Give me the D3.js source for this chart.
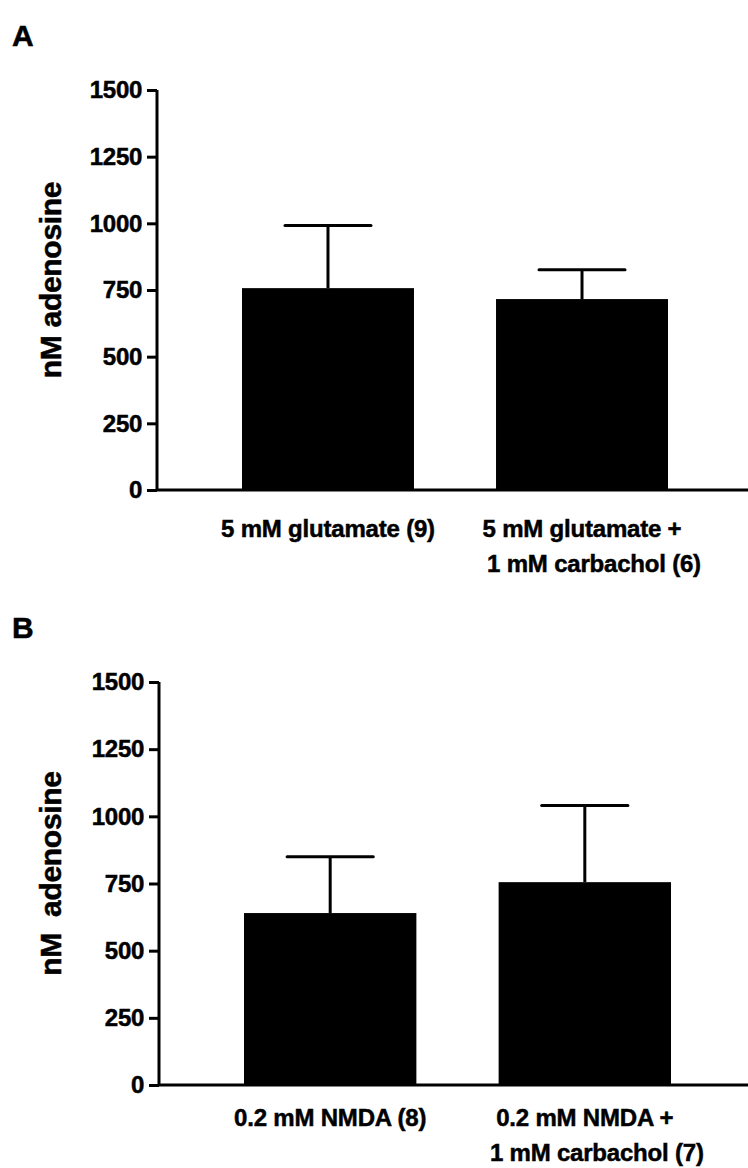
<!DOCTYPE html>
<html>
<head>
<meta charset="utf-8">
<script src="https://cdn.jsdelivr.net/npm/d3@7"></script>
<style>
  body { margin: 0; background: #fff; }
  svg { display: block; }
  text { font-family: "Liberation Sans", Arial, Helvetica, sans-serif; font-weight: bold; fill: #000; stroke: #000; stroke-width: 0.5px; }
</style>
</head>
<body>
<svg id="chart" width="748" height="1168"></svg>
<script>
// data (means and SEM, nM adenosine)
var panelLetters = ["A", "B"];
var categoriesA = [["5 mM glutamate (9)"], ["5 mM glutamate +", "1 mM carbachol (6)"]];
var meansA = [757, 716];
var semA = [235, 110];
var categoriesB = [["0.2 mM NMDA (8)"], ["0.2 mM NMDA +", "1 mM carbachol (7)"]];
var meansB = [640, 755];
var semB = [210, 285];
var yTicks = [0, 250, 500, 750, 1000, 1250, 1500];
var yTitles = ["nM adenosine", "nM  adenosine"];

var svg = d3.select("#chart");

/*
 * draws one bar panel with its axes, error bars and labels
 * @param {object} cfg  layout for the panel
 */
function renderPanel(cfg) {
    var g = svg.append("g");
    var keys = cfg.categories.map(function(d) { return d.join(" "); });

    var y = d3.scaleLinear().domain([0, 1500]).range([cfg.bottom, cfg.top]);
    var x = d3.scaleBand().domain(keys)
        .range([cfg.barLeft, cfg.barRight])
        .paddingInner(0.323).paddingOuter(0);

    // panel letter
    g.append("text")
        .attr("x", 12)
        .attr("y", cfg.top - 44)
        .attr("font-size", 30)
        .text(cfg.letter);

    // bars
    g.selectAll("rect.bar")
        .data(cfg.means)
        .enter().append("rect")
        .attr("class", "bar")
        .attr("x", function(d, i) { return x(keys[i]); })
        .attr("y", function(d) { return y(d); })
        .attr("width", x.bandwidth())
        .attr("height", function(d) { return y(0) - y(d); })
        .attr("fill", "#000");

    // error bars (upper half only)
    var err = g.selectAll("g.err")
        .data(cfg.means)
        .enter().append("g")
        .attr("class", "err")
        .attr("stroke", "#000")
        .attr("stroke-width", 3);
    err.append("line")
        .attr("x1", function(d, i) { return x(keys[i]) + x.bandwidth() / 2; })
        .attr("x2", function(d, i) { return x(keys[i]) + x.bandwidth() / 2; })
        .attr("y1", function(d) { return y(d); })
        .attr("y2", function(d, i) { return y(d + cfg.sem[i]); });
    err.append("line")
        .attr("stroke-linecap", "round")
        .attr("x1", function(d, i) { return x(keys[i]) + x.bandwidth() / 4; })
        .attr("x2", function(d, i) { return x(keys[i]) + x.bandwidth() * 3 / 4; })
        .attr("y1", function(d, i) { return y(d + cfg.sem[i]); })
        .attr("y2", function(d, i) { return y(d + cfg.sem[i]); });

    // y axis
    var yAxis = g.append("g")
        .attr("transform", "translate(" + cfg.axisX + ",0)")
        .call(d3.axisLeft(y).tickValues(yTicks).tickSize(10).tickPadding(5).tickFormat(d3.format("d")));
    yAxis.attr("font-family", null).attr("font-size", null);
    yAxis.select(".domain").attr("d", "M0," + y(1500) + "V" + y(0)).attr("stroke-width", 3);
    yAxis.selectAll(".tick line").attr("stroke-width", 3);
    yAxis.selectAll(".tick text")
        .attr("font-size", 24)
        .attr("letter-spacing", -0.3)
        .attr("fill", "#000");

    // x axis baseline to the right edge
    g.append("line")
        .attr("x1", cfg.axisX)
        .attr("x2", 748)
        .attr("y1", y(0))
        .attr("y2", y(0))
        .attr("stroke", "#000")
        .attr("stroke-width", 3);

    // category labels
    var lab = g.selectAll("text.cat")
        .data(cfg.categories)
        .enter().append("text")
        .attr("class", "cat")
        .attr("font-size", 24)
        .attr("letter-spacing", -0.2)
        .attr("text-anchor", "middle")
        .attr("y", y(0) + cfg.labelGap);
    lab.selectAll("tspan")
        .data(function(d, i) { return d.map(function(t) { return { t: t, i: i }; }); })
        .enter().append("tspan")
        .attr("x", function(d, j) { return x(keys[d.i]) + x.bandwidth() / 2 + (j > 0 ? 12 : 0); })
        .attr("dy", function(d, j) { return j === 0 ? 0 : 35; })
        .text(function(d) { return d.t; });

    // y axis title
    g.append("text")
        .attr("transform", "translate(" + 61 + "," + ((cfg.top + cfg.bottom) / 2 - 10) + ") rotate(-90)")
        .attr("text-anchor", "middle")
        .attr("font-size", 30)
        .attr("letter-spacing", -0.3)
        .style("white-space", "pre")
        .text(cfg.title);
}

renderPanel({ letter: panelLetters[0], categories: categoriesA, means: meansA, sem: semA,
    top: 90, bottom: 490, axisX: 157, barLeft: 242, barRight: 668, labelGap: 47, title: yTitles[0] });
renderPanel({ letter: panelLetters[1], categories: categoriesB, means: meansB, sem: semB,
    top: 682, bottom: 1085, axisX: 159, barLeft: 244, barRight: 671, labelGap: 41, title: yTitles[1] });
</script>
</body>
</html>
